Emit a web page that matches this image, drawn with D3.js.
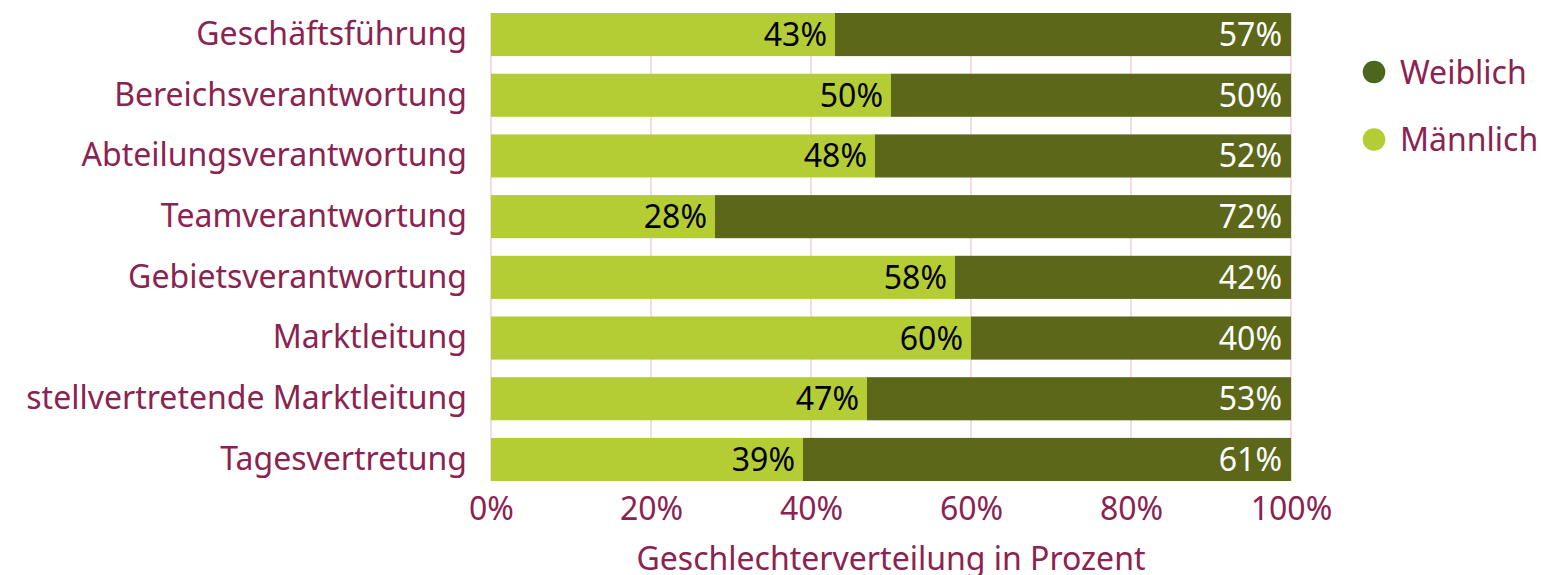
<!DOCTYPE html>
<html>
<head>
<meta charset="utf-8">
<script src="https://cdn.jsdelivr.net/npm/d3@7"></script>
<style>
  html, body { margin: 0; padding: 0; background: #fff; }
  svg { display: block; font-family: "Noto Sans", sans-serif; }
</style>
</head>
<body>
<div id="chart"></div>
<script>
// Daten
const categories = [
  'Geschäftsführung',
  'Bereichsverantwortung',
  'Abteilungsverantwortung',
  'Teamverantwortung',
  'Gebietsverantwortung',
  'Marktleitung',
  'stellvertretende Marktleitung',
  'Tagesvertretung'
];
const maennlich = [43, 50, 48, 28, 58, 60, 47, 39];
const weiblich = [57, 50, 52, 72, 42, 40, 53, 61];
const xTicks = [0, 20, 40, 60, 80, 100];
const seriesNames = ['Weiblich', 'Männlich'];

const width = 1541, height = 575;
const labelColor = '#8b2350';
const colWeib = '#5c6719';
const colMaen = '#b5cd34';
const fontSize = 32;

const svg = d3.select('#chart').append('svg')
  .attr('width', width)
  .attr('height', height);

const x = d3.scaleLinear().domain([0, 100]).range([491, 1291]);
const y = d3.scaleBand()
  .domain(categories)
  .range([4.2, 489.8])
  .paddingInner(0.29)
  .paddingOuter(0.145);

const rows = categories.map((c, i) => ({ cat: c, m: maennlich[i], w: weiblich[i] }));
const yTop = y(categories[0]);
const yBot = y(categories[categories.length - 1]) + y.bandwidth();

// Gitternetz
svg.append('g')
  .selectAll('line')
  .data(xTicks)
  .join('line')
  .attr('x1', d => x(d)).attr('x2', d => x(d))
  .attr('y1', yTop).attr('y2', yBot)
  .attr('stroke', '#f0d4e0')
  .attr('stroke-width', 1.6);

// Balken
const bars = svg.append('g').selectAll('g').data(rows).join('g');
bars.append('rect')
  .attr('x', x(0))
  .attr('y', d => y(d.cat))
  .attr('width', d => x(d.m) - x(0))
  .attr('height', y.bandwidth())
  .attr('fill', colMaen);
bars.append('rect')
  .attr('x', d => x(d.m))
  .attr('y', d => y(d.cat))
  .attr('width', d => x(d.m + d.w) - x(d.m))
  .attr('height', y.bandwidth())
  .attr('fill', colWeib);

// Werte
bars.append('text')
  .attr('x', d => x(d.m) - 8)
  .attr('y', d => y(d.cat) + y.bandwidth() / 2)
  .attr('dy', '0.36em')
  .attr('text-anchor', 'end')
  .attr('font-size', fontSize)
  .attr('fill', '#000')
  .text(d => d.m + '%');
bars.append('text')
  .attr('x', d => x(d.m + d.w) - 9)
  .attr('y', d => y(d.cat) + y.bandwidth() / 2)
  .attr('dy', '0.36em')
  .attr('text-anchor', 'end')
  .attr('font-size', fontSize)
  .attr('fill', '#fff')
  .text(d => d.w + '%');

// y-Achse (Kategorien)
const yAxis = svg.append('g')
  .attr('transform', `translate(${x(0)},0)`)
  .call(d3.axisLeft(y).tickSize(0).tickPadding(24));
yAxis.select('.domain').remove();
yAxis.selectAll('text')
  .attr('font-size', fontSize)
  .attr('font-family', '"Noto Sans", sans-serif')
  .attr('fill', labelColor);

// x-Achse
const xAxis = svg.append('g')
  .attr('transform', `translate(0,${yBot})`)
  .call(d3.axisBottom(x).tickValues(xTicks).tickFormat(d => d + '%').tickSize(0).tickPadding(16));
xAxis.select('.domain').remove();
xAxis.selectAll('text')
  .attr('font-size', fontSize)
  .attr('font-family', '"Noto Sans", sans-serif')
  .attr('fill', labelColor);

svg.append('text')
  .attr('x', (x(0) + x(100)) / 2)
  .attr('y', 570)
  .attr('text-anchor', 'middle')
  .attr('font-size', fontSize)
  .attr('fill', labelColor)
  .text('Geschlechterverteilung in Prozent');

// Legende
const legendColors = ['#4c671c', colMaen];
const legend = svg.append('g').selectAll('g').data(seriesNames).join('g')
  .attr('transform', (d, i) => `translate(1374,${72 + i * 67.5})`);
legend.append('circle')
  .attr('r', 11.3)
  .attr('fill', (d, i) => legendColors[i]);
legend.append('text')
  .attr('x', 26)
  .attr('dy', '0.36em')
  .attr('font-size', fontSize)
  .attr('fill', labelColor)
  .text(d => d);
</script>
</body>
</html>
